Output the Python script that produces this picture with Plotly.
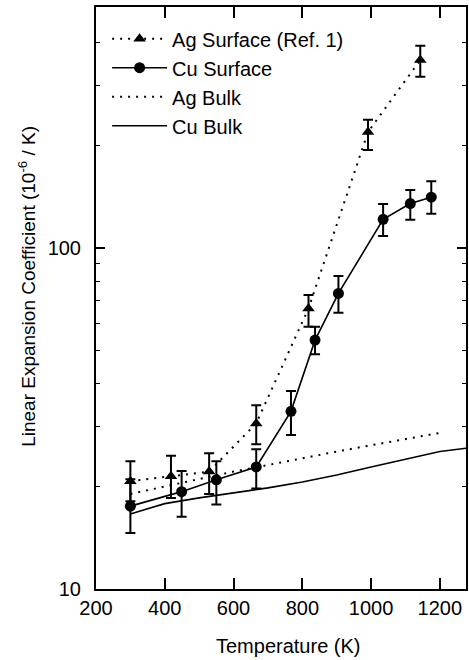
import plotly.graph_objects as go

# ---------------- data ----------------
ag_surf_T = [300, 418, 529, 666, 818, 991, 1143]
ag_surf_y = [20.7, 21.4, 22.1, 30.6, 66.5, 219, 356]
ag_surf_ep = [3.0, 3.2, 2.9, 4.0, 6.3, 19, 36]
ag_surf_em = [2.6, 2.9, 3.1, 4.0, 7.7, 25, 38]

cu_surf_T = [300, 449, 550, 666, 767, 837, 905, 1035, 1114, 1175]
cu_surf_y = [17.5, 19.3, 20.9, 22.8, 33.2, 53.7, 73.6, 121.4, 135, 141]
cu_surf_ep = [3.5, 2.9, 2.8, 2.9, 4.9, 5.1, 9.2, 13.2, 13, 16]
cu_surf_em = [2.9, 3.0, 3.2, 3.1, 4.9, 4.9, 9.0, 13.0, 14, 15]

ag_bulk_T = [300, 400, 500, 600, 700, 800, 900, 1000, 1100, 1200]
ag_bulk_y = [19.0, 20.0, 21.0, 22.1, 23.1, 24.2, 25.3, 26.4, 27.5, 28.7]

cu_bulk_T = [300, 350, 400, 500, 600, 700, 800, 900, 1000, 1100, 1200, 1280]
cu_bulk_y = [16.6, 17.2, 17.8, 18.5, 19.1, 19.8, 20.6, 21.6, 22.8, 24.0, 25.3, 25.9]

x_ticks = [200, 400, 600, 800, 1000, 1200]
y_ticks = [10, 100]
y_minor = [20, 30, 40, 50, 60, 70, 80, 90, 200, 300, 400]

FONT = "Liberation Sans, Arial, Helvetica, sans-serif"
DOT = "2px,6px"

fig = go.Figure()

fig.add_trace(go.Scatter(
    x=ag_surf_T, y=ag_surf_y, name="Ag Surface (Ref. 1)",
    mode="lines+markers",
    line=dict(color="black", width=2, dash=DOT),
    marker=dict(symbol="triangle-up", size=11, color="black"),
    error_y=dict(type="data", symmetric=False, array=ag_surf_ep,
                 arrayminus=ag_surf_em, color="black", thickness=2, width=5),
))
fig.add_trace(go.Scatter(
    x=cu_surf_T, y=cu_surf_y, name="Cu Surface",
    mode="lines+markers",
    line=dict(color="black", width=1.6),
    marker=dict(symbol="circle", size=11, color="black"),
    error_y=dict(type="data", symmetric=False, array=cu_surf_ep,
                 arrayminus=cu_surf_em, color="black", thickness=2, width=5),
))
fig.add_trace(go.Scatter(
    x=ag_bulk_T, y=ag_bulk_y, name="Ag Bulk", mode="lines",
    line=dict(color="black", width=2, dash=DOT),
))
fig.add_trace(go.Scatter(
    x=cu_bulk_T, y=cu_bulk_y, name="Cu Bulk", mode="lines",
    line=dict(color="black", width=1.6),
))

fig.update_layout(
    width=469, height=660,
    margin=dict(l=96, r=1, t=7, b=71),
    paper_bgcolor="white", plot_bgcolor="white",
    font=dict(family=FONT, size=20, color="black"),
    showlegend=True,
    legend=dict(x=0.03, y=0.979, xanchor="left", yanchor="top",
                bgcolor="rgba(0,0,0,0)", font=dict(size=20),
                tracegroupgap=0, itemwidth=55),
    xaxis=dict(range=[200, 1276], tickvals=x_ticks,
               ticks="inside", ticklen=11, tickwidth=1.6, tickcolor="black",
               showline=True, linecolor="black", linewidth=2, mirror="ticks",
               showgrid=False, zeroline=False),
    yaxis=dict(type="log", range=[1, 2.707], tickvals=y_ticks,
               ticktext=["10", "100"], ticklabelstandoff=9,
               ticks="inside", ticklen=9, tickwidth=1.6, tickcolor="black",
               minor=dict(tickvals=y_minor, ticks="inside", ticklen=4,
                          tickwidth=1, tickcolor="black", showgrid=False),
               showline=True, linecolor="black", linewidth=2, mirror="ticks",
               showgrid=False, zeroline=False),
    annotations=[
        dict(text="Linear Expansion Coefficient (10<sup>-6</sup> / K)",
             xref="paper", yref="paper", x=(27 - 96) / 372, y=0.5198,
             xanchor="center", yanchor="middle", textangle=-90,
             showarrow=False, font=dict(size=19)),
        dict(text="Temperature (K)", xref="paper", yref="paper",
             x=(289.5 - 96) / 372, y=-(646 - 589) / 582,
             xanchor="center", yanchor="middle", showarrow=False,
             font=dict(size=20)),
    ],
)

fig.write_html("out.html")
